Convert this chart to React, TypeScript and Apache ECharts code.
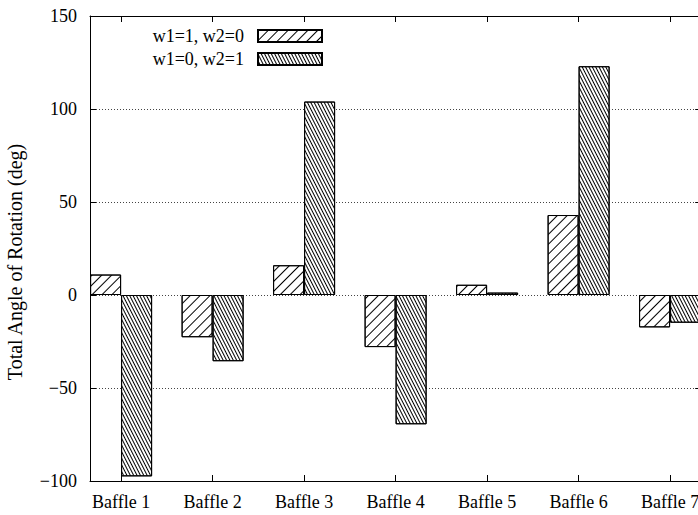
import React, { useEffect, useRef } from 'react';
import * as echarts from 'echarts';

const categories = ['Baffle 1', 'Baffle 2', 'Baffle 3', 'Baffle 4', 'Baffle 5', 'Baffle 6', 'Baffle 7'];
const w1Values = [11, -22.7, 16, -28, 5.5, 43, -17.4];
const w2Values = [-97.5, -35.6, 104, -69.5, 1.3, 123, -14.9];
const seriesNames = ['w1=1, w2=0', 'w1=0, w2=1'];
const xTickValues = [1, 2, 3, 4, 5, 6, 7];
const yMin = -100;
const yMax = 150;
const yInterval = 50;
const yTitle = 'Total Angle of Rotation (deg)';

const FONT = 'Liberation Serif';

export default function App() {
  const ref = useRef<HTMLDivElement>(null);
  useEffect(() => {
    const chart = echarts.init(ref.current as HTMLDivElement, null, { renderer: 'svg' });
    const decalW1 = {
      symbol: 'rect', symbolSize: 1, symbolKeepAspect: false, color: '#000', backgroundColor: null,
      dashArrayX: [1, 0], dashArrayY: [1, 6], rotation: -Math.PI / 4, maxTileWidth: 512, maxTileHeight: 512,
    };
    const decalW2 = {
      symbol: 'rect', symbolSize: 1, symbolKeepAspect: false, color: '#000', backgroundColor: null,
      dashArrayX: [1, 0], dashArrayY: [1, 2], rotation: 1.1, maxTileWidth: 512, maxTileHeight: 512,
    };
    const xMin = 0.66;
    const xMax = 7.34;
    const option: any = {
      animation: false,
      aria: { enabled: true, decal: { show: true } },
      textStyle: { fontFamily: FONT },
      grid: { left: 90, width: 611.2, top: 16, bottom: 34, containLabel: false, outerBoundsMode: 'none' },
      graphic: [
        {
          type: 'text',
          x: 15,
          y: 262,
          rotation: Math.PI / 2,
          style: {
            text: yTitle,
            fontFamily: FONT,
            fontSize: 20,
            fill: '#000',
            align: 'center',
            verticalAlign: 'middle',
          },
        },
      ],
      legend: {
        data: seriesNames,
        orient: 'vertical',
        align: 'right',
        right: 375,
        top: 27,
        padding: 0,
        itemWidth: 64,
        itemHeight: 12,
        itemGap: 5,
        icon: 'rect',
        formatter: '{t|{name}}',
        textStyle: {
          fontFamily: FONT, fontSize: 18, color: '#000', lineHeight: 13,
          rich: { t: { fontFamily: FONT, fontSize: 18, color: '#000', lineHeight: 13, padding: [0, 9, 0, 0] } },
        },
      },
      xAxis: [
        {
          type: 'value', min: xMin, max: xMax, position: 'bottom',
          axisLine: { show: true, onZero: false, lineStyle: { color: '#000', width: 1 } },
          axisTick: { show: true, inside: true, length: 6, customValues: xTickValues, lineStyle: { color: '#000' } },
          axisLabel: {
            show: true, customValues: xTickValues, margin: 12, fontFamily: FONT, fontSize: 18, color: '#000',
            formatter: (v: number) => categories[Math.round(v) - 1] ?? '',
          },
          splitLine: { show: false },
        },
        {
          type: 'value', min: xMin, max: xMax, position: 'top',
          axisLine: { show: true, onZero: false, lineStyle: { color: '#000', width: 1 } },
          axisTick: { show: true, inside: true, length: 6, customValues: xTickValues, lineStyle: { color: '#000' } },
          axisLabel: { show: false },
          splitLine: { show: false },
        },
      ],
      yAxis: [
        {
          type: 'value', min: yMin, max: yMax, interval: yInterval,
          axisLine: { show: true, lineStyle: { color: '#000', width: 1 } },
          axisTick: { show: true, inside: true, length: 6, lineStyle: { color: '#000' } },
          axisLabel: {
            margin: 13, fontFamily: FONT, fontSize: 18, color: '#000',
            formatter: (v: number) => (v < 0 ? '\u2212' + Math.abs(v) : String(v)),
          },
          splitLine: { show: true, lineStyle: { color: '#444', type: [1, 2], width: 1 } },
        },
        {
          type: 'value', min: yMin, max: yMax, interval: yInterval, position: 'right',
          axisLine: { show: true, lineStyle: { color: '#000', width: 1 } },
          axisTick: { show: true, inside: true, length: 6, lineStyle: { color: '#000' } },
          axisLabel: { show: false },
          splitLine: { show: false },
        },
      ],
      series: [
        {
          name: seriesNames[0], type: 'bar', xAxisIndex: 0, yAxisIndex: 0,
          barWidth: 31, barGap: '0%',
          itemStyle: { color: '#fff', borderColor: '#000', borderWidth: 1, decal: decalW1 },
          data: categories.map((_, i) => [i + 1, w1Values[i]]),
        },
        {
          name: seriesNames[1], type: 'bar', xAxisIndex: 0, yAxisIndex: 0,
          barWidth: 31, barGap: '0%',
          itemStyle: { color: '#fff', borderColor: '#000', borderWidth: 1, decal: decalW2 },
          data: categories.map((_, i) => [i + 1, w2Values[i]]),
        },
      ],
    };
    chart.setOption(option);
    return () => chart.dispose();
  }, []);
  return <div ref={ref} style={{ position: 'absolute', left: 0, top: 0, width: 698, height: 515 }} />;
}
